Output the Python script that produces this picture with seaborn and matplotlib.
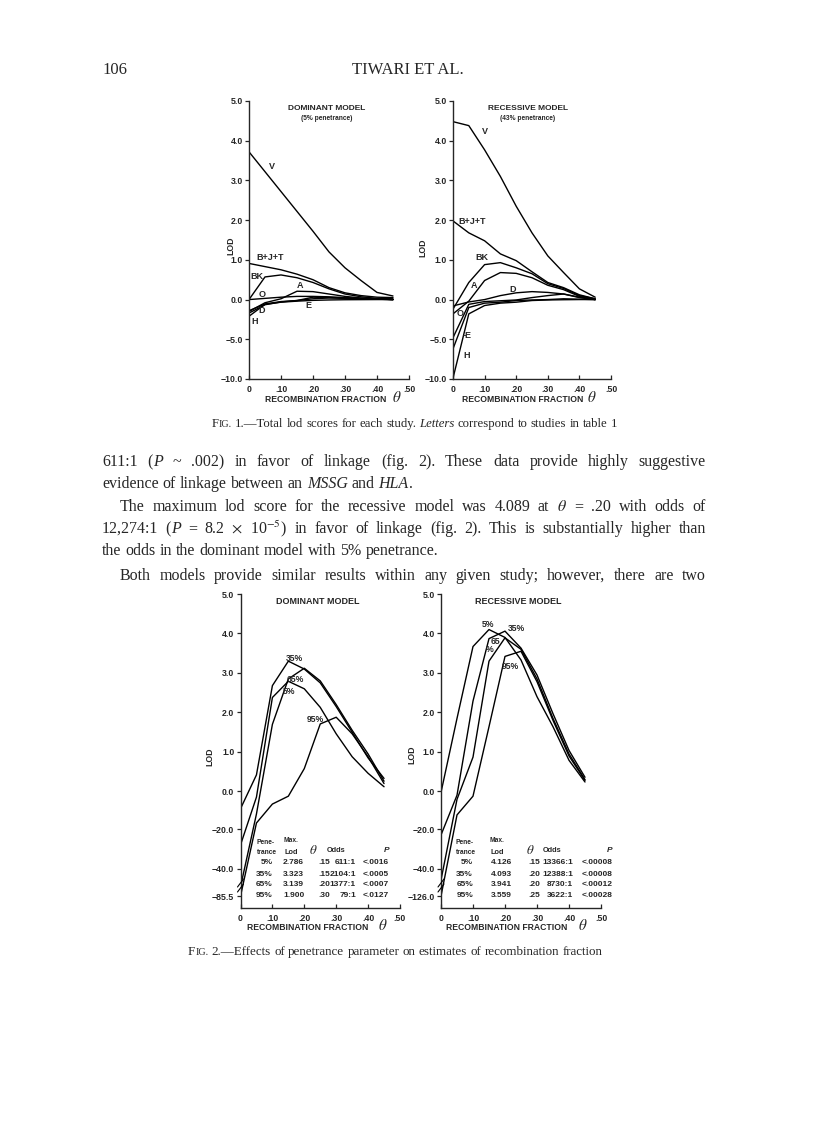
import re
import numpy as np
import pandas as pd
import matplotlib
matplotlib.use("Agg")
import matplotlib.pyplot as plt
from matplotlib.lines import Line2D
from matplotlib.ticker import FixedLocator, FixedFormatter, NullLocator
import seaborn as sns

W, H = 816, 1122

theta = [0, .05, .10, .15, .20, .25, .30, .35, .40, .45]
x_ticks = [0, .1, .2, .3, .4, .5]
x_tick_labels = ["0", ".10", ".20", ".30", ".40", ".50"]

# Fig. 1, dominant model (5% penetrance), lod per study
dom_V = [3.72, 3.22, 2.72, 2.22, 1.72, 1.20, 0.80, 0.48, 0.18, 0.09]
dom_BJT = [0.91, 0.83, 0.75, 0.64, 0.50, 0.30, 0.17, 0.10, 0.06, 0.05]
dom_BK = [0.0, 0.57, 0.62, 0.55, 0.43, 0.27, 0.14, 0.07, 0.03, 0.02]
dom_A = [-1.5, -0.4, 0.02, 0.21, 0.20, 0.14, 0.08, 0.04, 0.02, 0.0]
dom_O = [0.0, 0.03, 0.06, 0.08, 0.08, 0.07, 0.05, 0.03, 0.02, 0.0]
dom_D = [-1.4, -0.55, -0.25, -0.12, 0.02, 0.04, 0.03, 0.02, 0.01, 0.0]
dom_E = [-1.7, -0.65, -0.30, -0.12, 0.06, 0.05, 0.04, 0.02, 0.01, 0.0]
dom_H = [-2.1, -0.60, -0.33, -0.20, -0.10, -0.05, -0.02, -0.01, 0.0, 0.0]

# Fig. 1, recessive model (43% penetrance)
rec_V = [4.48, 4.38, 3.77, 3.10, 2.35, 1.68, 1.10, 0.68, 0.27, 0.06]
rec_BJT = [1.98, 1.68, 1.48, 1.15, 0.98, 0.70, 0.43, 0.30, 0.12, 0.02]
rec_BK = [-1.2, 0.43, 0.88, 0.93, 0.80, 0.65, 0.40, 0.28, 0.10, 0.02]
rec_A = [-1.8, -0.2, 0.48, 0.68, 0.66, 0.55, 0.36, 0.25, 0.08, 0.0]
rec_D = [-0.8, -0.3, 0.0, 0.10, 0.17, 0.20, 0.18, 0.14, 0.06, 0.0]
rec_O = [-4.8, -0.6, -0.25, -0.15, -0.05, 0.05, 0.10, 0.14, 0.05, 0.0]
rec_E = [-6.2, -1.0, -0.45, -0.33, -0.12, -0.05, 0.0, 0.02, 0.01, 0.0]
rec_H = [-9.9, -1.8, -0.75, -0.45, -0.33, -0.12, -0.05, -0.02, 0.0, 0.0]

# Fig. 2, total lod by penetrance
dom_p5 = [-28, -3.0, 2.38, 2.79, 2.60, 2.13, 1.46, 0.88, 0.46, 0.12]
dom_p35 = [-9.2, 0.42, 2.68, 3.30, 3.10, 2.75, 2.15, 1.50, 0.85, 0.33]
dom_p65 = [-70, -12, 1.70, 2.85, 3.12, 2.80, 2.20, 1.55, 0.95, 0.26]
dom_p95 = [-85.5, -16.8, -6.7, -2.5, 0.58, 1.71, 1.88, 1.46, 0.88, 0.20]

rec_p5 = [-0.5, 1.85, 3.67, 4.10, 3.90, 3.33, 2.40, 1.64, 0.79, 0.24]
rec_p35 = [-23, -2.0, 2.29, 3.87, 4.06, 3.63, 2.95, 1.97, 1.04, 0.36]
rec_p65 = [-75, -4.2, 0.87, 3.30, 3.89, 3.60, 2.85, 1.85, 0.95, 0.30]
rec_p95 = [-126, -12.5, -2.5, 1.64, 3.42, 3.55, 2.78, 1.80, 0.90, 0.28]

# tables in fig. 2
pen_labels = ["5%", "35%", "65%", "95%"]
dom_maxlod = ["2.786", "3.323", "3.139", "1.900"]
dom_theta = [".15", ".15", ".20", ".30"]
dom_odds = ["611:1", "2104:1", "1377:1", "79:1"]
dom_p = ["<.0016", "<.0005", "<.0007", "<.0127"]
rec_maxlod = ["4.126", "4.093", "3.941", "3.559"]
rec_theta = [".15", ".20", ".20", ".25"]
rec_odds = ["13366:1", "12388:1", "8730:1", "3622:1"]
rec_p = ["<.00008", "<.00008", "<.00012", "<.00028"]

sns.set_style("ticks")
plt.rcParams["font.family"] = ["Liberation Sans", "DejaVu Sans"]
plt.rcParams["mathtext.fontset"] = "stix"
SERIF = ["Liberation Serif", "DejaVu Serif"]

fig = plt.figure(figsize=(W / 100, H / 100), dpi=100)
fig.patch.set_facecolor("white")


def px(x, y):
    return x / W, 1 - y / H


def panel(x0, x1, ytop, ybot):
    return fig.add_axes([x0 / W, 1 - ybot / H, (x1 - x0) / W, (ybot - ytop) / H])


def long_frame(curves):
    rows = []
    for name, vals in curves.items():
        for t, v in zip(theta, vals):
            rows.append((name, t, v))
    return pd.DataFrame(rows, columns=["curve", "theta", "lod"])


def fig1_scale():
    def fwd(y):
        y = np.asarray(y, dtype=float)
        return np.where(y >= 0, y, y / 5.0)

    def inv(p):
        p = np.asarray(p, dtype=float)
        return np.where(p >= 0, p, p * 5.0)
    return fwd, inv


def fig2_scale(lo):
    xp = np.array([lo * 4, lo, -40.0, -20.0, 0.0])
    fp = np.array([-6.0, -2.65, -1.96, -0.95, 0.0])

    def fwd(y):
        y = np.asarray(y, dtype=float)
        return np.where(y >= 0, y, np.interp(y, xp, fp))

    def inv(p):
        p = np.asarray(p, dtype=float)
        return np.where(p >= 0, p, np.interp(p, fp, xp))
    return fwd, inv


def draw_panel(ax, curves, scale, yticks, ylabels, pos_bottom):
    sns.lineplot(data=long_frame(curves), x="theta", y="lod", units="curve",
                 estimator=None, color="black", linewidth=1.0, sort=False,
                 legend=False, ax=ax)
    ax.set_yscale("function", functions=scale)
    ax.set_xlim(0, 0.5)
    ax.set_ylim(float(scale[1](pos_bottom)), 5)
    ax.yaxis.set_major_locator(FixedLocator(yticks))
    ax.yaxis.set_major_formatter(FixedFormatter(ylabels))
    ax.yaxis.set_minor_locator(NullLocator())
    ax.xaxis.set_major_locator(FixedLocator(x_ticks))
    ax.xaxis.set_major_formatter(FixedFormatter(x_tick_labels))
    ax.xaxis.set_minor_locator(NullLocator())
    ax.set_xlabel("")
    ax.set_ylabel("")
    sns.despine(ax=ax)
    for s in ax.spines.values():
        s.set_linewidth(1.0)
    ax.tick_params(axis="y", direction="out", length=3, width=0.9, pad=1.5, labelsize=6.3)
    ax.tick_params(axis="x", direction="in", length=3, width=0.9, pad=4, labelsize=6.3)
    for lab in ax.get_xticklabels() + ax.get_yticklabels():
        lab.set_fontweight("bold")
    ax.patch.set_alpha(0)


def label(x, y, s, size=6, **kw):
    fig.text(*px(x, y), s, fontsize=size, fontweight="bold", ha="center", va="center", **kw)


def xlabel(x, y, xt):
    label(x, y, "RECOMBINATION FRACTION", size=6.2)
    fig.text(*px(xt, y - 2), r"$\theta$", fontsize=11, ha="center", va="center")


# ---- Fig. 1 ----
f1_ticks = [5, 4, 3, 2, 1, 0, -5, -10]
f1_labels = ["5.0", "4.0", "3.0", "2.0", "1.0", "0.0", "\u22125.0", "\u221210.0"]

ax1 = panel(249, 409, 101, 379)
draw_panel(ax1, {"V": dom_V, "B+J+T": dom_BJT, "BK": dom_BK, "A": dom_A, "O": dom_O,
                 "D": dom_D, "E": dom_E, "H": dom_H},
           fig1_scale(), f1_ticks, f1_labels, -2.0)
ax2 = panel(453, 611, 101, 379)
draw_panel(ax2, {"V": rec_V, "B+J+T": rec_BJT, "BK": rec_BK, "A": rec_A, "D": rec_D,
                 "O": rec_O, "E": rec_E, "H": rec_H},
           fig1_scale(), f1_ticks, f1_labels, -2.0)

label(327, 109, "DOMINANT MODEL", size=6)
label(327, 118, "(5% penetrance)", size=4.8)
label(528, 109, "RECESSIVE MODEL", size=6)
label(528, 118, "(43% penetrance)", size=4.8)
label(231, 246, "LOD", rotation=90, size=6.3)
label(423, 248, "LOD", rotation=90, size=6.3)
xlabel(326, 400, 397)
xlabel(523, 400, 592)

for s, x, y in [("V", 271.7, 166.7), ("B+J+T", 270, 257.7), ("BK", 257, 276.7), ("A", 300, 286),
                ("O", 261.7, 294.3), ("E", 308.3, 305.7), ("D", 261.7, 311), ("H", 254.3, 321),
                ("V", 485, 131.7), ("B+J+T", 472, 221), ("BK", 482, 258), ("A", 474.3, 285),
                ("D", 513, 289), ("O", 460, 313), ("-E", 467, 335), ("H", 467, 356)]:
    label(x, y, s, size=6.5)

# ---- Fig. 2 ----
f2_ticks_l = [5, 4, 3, 2, 1, 0, -20, -40, -85.5]
f2_labels_l = ["5.0", "4.0", "3.0", "2.0", "1.0", "0.0", "\u221220.0", "\u221240.0", "\u221285.5"]
f2_ticks_r = [5, 4, 3, 2, 1, 0, -20, -40, -126]
f2_labels_r = ["5.0", "4.0", "3.0", "2.0", "1.0", "0.0", "\u221220.0", "\u221240.0", "\u2212126.0"]

ax3 = panel(240.5, 400, 594, 908)
draw_panel(ax3, {"5%": dom_p5, "35%": dom_p35, "65%": dom_p65, "95%": dom_p95},
           fig2_scale(-85.5), f2_ticks_l, f2_labels_l, -2.95)
ax4 = panel(441, 601, 594, 908)
draw_panel(ax4, {"5%": rec_p5, "35%": rec_p35, "65%": rec_p65, "95%": rec_p95},
           fig2_scale(-126.0), f2_ticks_r, f2_labels_r, -2.95)

# axis breaks
for x in (240.5, 441):
    for dy in (0, 5):
        fig.add_artist(Line2D([(x - 3) / W, (x + 3) / W],
                              [1 - (892 - dy) / H, 1 - (884 - dy) / H],
                              color="black", lw=0.8))

label(318, 602, "DOMINANT MODEL", size=6.5)
label(518, 602, "RECESSIVE MODEL", size=6.5)
label(210, 757, "LOD", rotation=90, size=6.3)
label(411.7, 755, "LOD", rotation=90, size=6.3)
xlabel(308, 928, 383)
xlabel(507, 928, 583)

for s, x, y in [("35%", 294.3, 658.3), ("65%", 295, 680), ("5%", 289.3, 691), ("95%", 315, 720),
                ("5%", 488.3, 624.3), ("35%", 516.7, 628.3), ("65", 495, 641.7), ("%", 490, 649),
                ("95%", 510, 666.7)]:
    label(x, y, s, size=6.2)


def table(xs, rows_y, cols):
    pen_r, lod_l, th_l, odds_r, p_l, pene_c, max_c, th_c, odds_c, p_c = xs
    label(pene_c, 843, "Pene-", size=4.8)
    label(pene_c + 1, 852, "trance", size=4.8)
    label(max_c, 840, "Max.", size=4.8)
    label(max_c, 852, "Lod", size=5.3)
    fig.text(*px(th_c, 850), r"$\theta$", fontsize=9.5, ha="center", va="center")
    label(odds_c, 851, "Odds", size=5.3)
    fig.text(*px(p_c, 851), "P", fontsize=6, style="italic", fontweight="bold",
             ha="center", va="center")
    for i, y in enumerate(rows_y):
        pen, lod, th, odds, p = (c[i] for c in cols)
        fig.text(*px(pen_r, y), pen, fontsize=6, fontweight="bold", ha="right", va="center")
        fig.text(*px(lod_l, y), lod, fontsize=6, fontweight="bold", ha="left", va="center")
        fig.text(*px(th_l, y), th, fontsize=6, fontweight="bold", ha="left", va="center")
        fig.text(*px(odds_r, y), odds, fontsize=6, fontweight="bold", ha="right", va="center")
        fig.text(*px(p_l, y), p, fontsize=6, fontweight="bold", ha="left", va="center")


rows_y = [863, 874, 884.5, 895.5]
table((273, 283, 318, 356, 363, 266, 291, 313, 336, 387), rows_y,
      (pen_labels, dom_maxlod, dom_theta, dom_odds, dom_p))
table((473, 491, 528, 573, 582, 465, 497, 530, 552, 610), rows_y,
      (pen_labels, rec_maxlod, rec_theta, rec_odds, rec_p))

# ---- page text ----
renderer = fig.canvas.get_renderer()


def text_line(y, x0, x1, line, size=11.5, justify=True):
    # "_" toggles italic, "|" toggles small capitals
    placed = []
    for word in line.split(" "):
        segs = []
        italic = small = False
        for part in re.split(r"([_|])", word):
            if part == "_":
                italic = not italic
                continue
            if part == "|":
                small = not small
                continue
            if not part:
                continue
            t = fig.text(0, 0, part, fontsize=size * (0.78 if small else 1), family=SERIF,
                         style="italic" if italic else "normal", va="baseline")
            segs.append((t, t.get_window_extent(renderer).width))
        placed.append(segs)
    widths = [sum(w for _, w in s) for s in placed]
    gap = (x1 - x0 - sum(widths)) / (len(placed) - 1) if justify else size * 100 / 72 * 0.25
    x = x0
    for segs in placed:
        for t, w in segs:
            t.set_position(px(x, y))
            x += w
        x += gap


fig.text(*px(102, 74), "106", fontsize=12, family=SERIF, va="baseline")
fig.text(*px(408, 74), "TIWARI ET AL.", fontsize=12, family=SERIF, va="baseline", ha="center")

text_line(427, 212, 612, "F|IG.| 1.\u2014Total lod scores for each study. _Letters_ correspond to studies in table 1",
          size=9.2, justify=False)
text_line(955, 188, 612, "F|IG.| 2.\u2014Effects of penetrance parameter on estimates of recombination fraction",
          size=9.4, justify=False)

text_line(466, 102, 706, "611:1 (_P_ ~ .002) in favor of linkage (fig. 2). These data provide highly suggestive")
text_line(488, 102, 706, "evidence of linkage between an _MSSG_ and _HLA_.", justify=False)
text_line(511, 120, 706, r"The maximum lod score for the recessive model was 4.089 at $\theta$ = .20 with odds of")
text_line(533, 102, 706, r"12,274:1 (_P_ = 8.2 $\times$ 10$^{-5}$) in favor of linkage (fig. 2). This is substantially higher than")
text_line(555, 102, 706, "the odds in the dominant model with 5% penetrance.", justify=False)
text_line(580, 120, 706, "Both models provide similar results within any given study; however, there are two")

fig.savefig("out.png", dpi=100, facecolor="white")
